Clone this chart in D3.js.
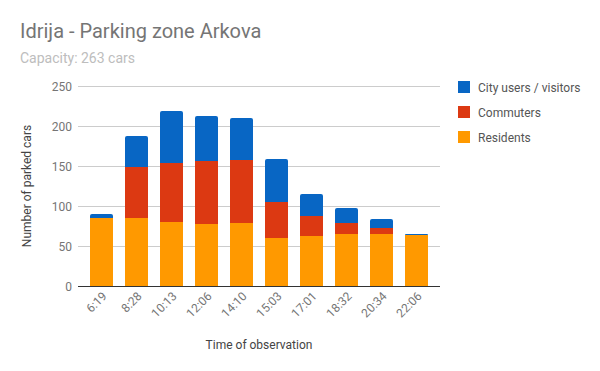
<!DOCTYPE html>
<html>
<head>
<meta charset="utf-8">
<script src="https://cdn.jsdelivr.net/npm/d3@7/dist/d3.min.js"></script>
<style>
  body { margin: 0; background: #fff; }
  svg { font-family: Roboto, sans-serif; }
</style>
</head>
<body>
<div id="chart"></div>
<script>
// values
var times = ['6:19', '8:28', '10:13', '12:06', '14:10', '15:03', '17:01', '18:32', '20:34', '22:06'];
var residents = [85, 85, 80, 78, 79, 60, 63, 65, 65, 64];
var commuters = [0, 64, 74, 78, 79, 45, 24, 14, 8, 0];
var cityUsers = [5, 38, 65, 56, 52, 54, 28, 19, 11, 1];
var yTicks = [0, 50, 100, 150, 200, 250];

var seriesNames = ['Residents', 'Commuters', 'City users / visitors'];
var colors = ['#ff9900', '#dc3912', '#0866c4'];

var W = 600, H = 371;
var svg = d3.select('#chart').append('svg')
    .attr('width', W)
    .attr('height', H);

var x = d3.scaleBand()
    .domain(times)
    .range([78, 440])
    .padding(0.343);

var y = d3.scaleLinear()
    .domain([0, 250])
    .range([286, 86]);

// title
svg.append('text')
    .attr('x', 20).attr('y', 38)
    .attr('font-size', 20)
    .attr('fill', '#757575')
    .text('Idrija - Parking zone Arkova');
svg.append('text')
    .attr('x', 20).attr('y', 63)
    .attr('font-size', 14)
    .attr('fill', '#bdbdbd')
    .text('Capacity: 263 cars');

// grid
svg.append('g').selectAll('line')
    .data(yTicks.slice(1))
    .enter().append('line')
    .attr('x1', 78).attr('x2', 440)
    .attr('y1', d => y(d) + 0.5).attr('y2', d => y(d) + 0.5)
    .attr('stroke', '#cccccc');

svg.append('g').selectAll('text')
    .data(yTicks)
    .enter().append('text')
    .attr('x', 72)
    .attr('y', d => y(d) + 4.5)
    .attr('text-anchor', 'end')
    .attr('font-size', 12)
    .attr('fill', '#757575')
    .text(d => d);

// stacked bars
var rows = times.map((t, i) => ({ t: t, Residents: residents[i], Commuters: commuters[i], 'City users / visitors': cityUsers[i] }));
var stacked = d3.stack().keys(seriesNames)(rows);

function barPath(x0, y0, y1, w, r) {
    // rounded top corners only, snapped to whole pixels so segments meet cleanly
    x0 = Math.round(x0); w = Math.round(w);
    y0 = Math.round(y0); y1 = Math.round(y1);
    if (y0 - y1 < r) r = Math.max(0, y0 - y1);
    return 'M' + x0 + ',' + y0 +
        'V' + (y1 + r) +
        'Q' + x0 + ',' + y1 + ' ' + (x0 + r) + ',' + y1 +
        'H' + (x0 + w - r) +
        'Q' + (x0 + w) + ',' + y1 + ' ' + (x0 + w) + ',' + (y1 + r) +
        'V' + y0 + 'Z';
}

stacked.forEach(function(layer, li) {
    svg.append('g').selectAll('path')
        .data(layer.filter(d => d[1] > d[0]))
        .enter().append('path')
        .attr('fill', colors[li])
        .attr('d', function(d) {
            var top = li === 2;
            return barPath(x(d.data.t), y(d[0]), y(d[1]), x.bandwidth(), top ? 2 : 0);
        });
});

// baseline
svg.append('line')
    .attr('x1', 78).attr('x2', 440)
    .attr('y1', 286.5).attr('y2', 286.5)
    .attr('stroke', '#333');

// x labels
svg.append('g').selectAll('text')
    .data(times)
    .enter().append('text')
    .attr('transform', d => 'translate(' + (x(d) + x.bandwidth() / 2 + 6) + ',297) rotate(-45)')
    .attr('text-anchor', 'end')
    .attr('font-size', 12)
    .attr('fill', '#757575')
    .text(d => d);

// axis titles
svg.append('text')
    .attr('x', 259).attr('y', 349)
    .attr('text-anchor', 'middle')
    .attr('font-size', 12)
    .attr('fill', '#444')
    .text('Time of observation');
svg.append('text')
    .attr('transform', 'translate(31,186) rotate(-90)')
    .attr('text-anchor', 'middle')
    .attr('font-size', 12)
    .attr('fill', '#444')
    .text('Number of parked cars');

// legend, top-down order reversed
var legend = svg.append('g').selectAll('g')
    .data(seriesNames.slice().reverse())
    .enter().append('g')
    .attr('transform', (d, i) => 'translate(458,' + (81 + i * 25) + ')');
legend.append('rect')
    .attr('width', 12).attr('height', 12)
    .attr('fill', d => colors[seriesNames.indexOf(d)]);
legend.append('text')
    .attr('x', 20).attr('y', 10.5)
    .attr('font-size', 12)
    .attr('fill', '#555')
    .text(d => d);
</script>
</body>
</html>
